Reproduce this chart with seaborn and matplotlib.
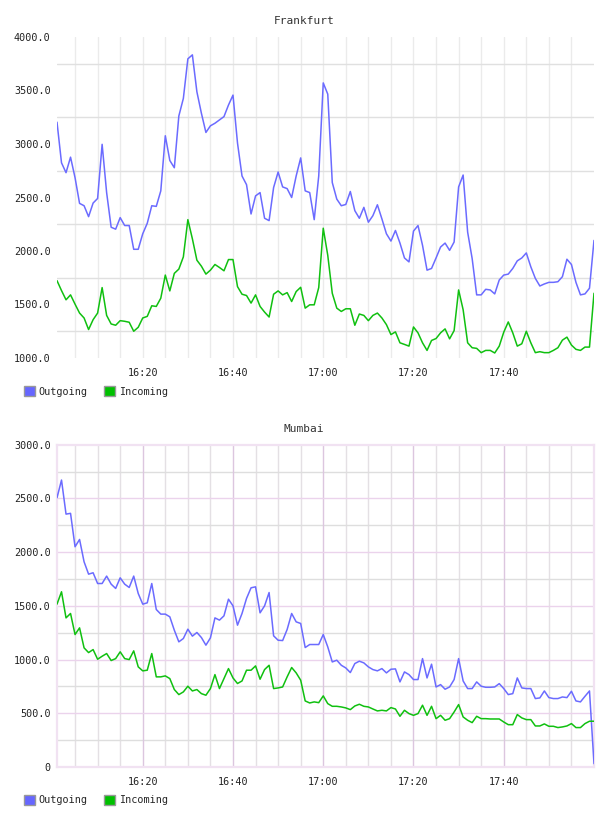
import pandas as pd
import matplotlib.pyplot as plt
import seaborn as sns
from matplotlib.patches import Patch

sns.set_style("white")
plt.rcParams['font.family'] = ['DejaVu Sans Mono', 'DejaVu Sans']

# minutes after 16:00, one sample per minute
minutes = list(range(1, 121))

fra_out = [3204, 2824, 2732, 2877, 2685, 2445, 2423, 2321, 2448, 2491,
           2997, 2545, 2222, 2204, 2312, 2238, 2238, 2016, 2016, 2161,
           2259, 2423, 2417, 2562, 3077, 2846, 2778, 3262, 3426, 3796,
           3833, 3488, 3287, 3108, 3170, 3194, 3225, 3256, 3364, 3457,
           3009, 2701, 2620, 2346, 2515, 2546, 2306, 2284, 2593, 2738,
           2599, 2583, 2500, 2701, 2870, 2562, 2546, 2293, 2701, 3571,
           3466, 2640, 2485, 2423, 2435, 2556, 2377, 2306, 2408, 2269,
           2330, 2432, 2300, 2161, 2093, 2192, 2074, 1935, 1898, 2186,
           2238, 2053, 1821, 1837, 1935, 2037, 2074, 2006, 2084, 2599,
           2710, 2176, 1929, 1590, 1590, 1642, 1636, 1599, 1729, 1775,
           1784, 1837, 1908, 1935, 1982, 1852, 1744, 1673, 1692, 1707,
           1707, 1713, 1760, 1923, 1874, 1707, 1590, 1599, 1652, 2099]
fra_in = [1723, 1630, 1544, 1590, 1503, 1420, 1374, 1266, 1358, 1420,
          1658, 1398, 1318, 1306, 1349, 1343, 1334, 1250, 1287, 1374,
          1389, 1488, 1482, 1559, 1775, 1627, 1791, 1831, 1945, 2293,
          2114, 1914, 1858, 1784, 1821, 1874, 1846, 1815, 1920, 1920,
          1667, 1596, 1584, 1513, 1590, 1482, 1429, 1383, 1596, 1627,
          1590, 1611, 1528, 1621, 1661, 1466, 1497, 1497, 1658, 2213,
          1960, 1605, 1466, 1435, 1460, 1460, 1306, 1411, 1398, 1349,
          1398, 1420, 1374, 1312, 1219, 1244, 1142, 1127, 1111, 1290,
          1235, 1142, 1071, 1164, 1182, 1235, 1272, 1179, 1256, 1636,
          1451, 1142, 1096, 1090, 1050, 1071, 1071, 1047, 1111, 1241,
          1337, 1235, 1111, 1133, 1250, 1142, 1050, 1059, 1050, 1050,
          1071, 1096, 1167, 1195, 1121, 1081, 1071, 1102, 1102, 1605]
mum_out = [2506, 2671, 2354, 2361, 2050, 2118, 1910, 1795, 1808, 1708,
           1708, 1777, 1702, 1662, 1761, 1702, 1671, 1777, 1615, 1516,
           1528, 1708, 1466, 1423, 1423, 1398, 1273, 1165, 1196, 1283,
           1218, 1252, 1205, 1134, 1202, 1388, 1367, 1407, 1562, 1500,
           1320, 1429, 1569, 1668, 1677, 1435, 1500, 1624, 1221, 1180,
           1177, 1280, 1429, 1351, 1336, 1112, 1140, 1140, 1140, 1233,
           1118, 978, 994, 947, 922, 879, 963, 985, 969, 932,
           907, 895, 916, 876, 910, 913, 792, 885, 860, 814,
           814, 1009, 829, 957, 745, 767, 724, 745, 814, 1009,
           801, 730, 730, 792, 752, 742, 742, 745, 776, 730,
           674, 683, 829, 736, 730, 730, 637, 643, 708, 646,
           637, 637, 652, 646, 705, 615, 606, 658, 708, 31]
mum_in = [1516, 1631, 1388, 1429, 1233, 1295, 1109, 1065, 1093, 1003,
          1031, 1056, 991, 1009, 1072, 1009, 1000, 1081, 932, 895,
          901, 1056, 839, 839, 848, 823, 721, 674, 699, 752,
          708, 721, 683, 668, 730, 860, 730, 823, 916, 829,
          777, 801, 901, 901, 941, 817, 907, 947, 730, 736,
          745, 839, 926, 876, 808, 615, 596, 606, 599, 662,
          590, 565, 565, 559, 550, 534, 568, 584, 565, 559,
          540, 522, 528, 522, 553, 540, 472, 528, 497, 481,
          497, 575, 481, 565, 450, 481, 435, 450, 512, 581,
          466, 435, 413, 472, 450, 450, 447, 447, 447, 419,
          394, 394, 488, 457, 441, 441, 382, 382, 401, 379,
          379, 367, 373, 382, 404, 367, 367, 404, 426, 426]

series_names = ["Outgoing", "Incoming"]
colors = {"Outgoing": "#6b6bff", "Incoming": "#10c010"}
legend_colors = {"Outgoing": "#6666ff", "Incoming": "#00c000"}

tick_minutes = [20, 40, 60, 80, 100]
tick_labels = ["16:20", "16:40", "17:00", "17:20", "17:40"]
grid_minutes = list(range(5, 120, 5))


def long_df(out_vals, in_vals):
    return pd.concat([
        pd.DataFrame({"minute": minutes, "value": out_vals, "series": "Outgoing"}),
        pd.DataFrame({"minute": minutes, "value": in_vals, "series": "Incoming"}),
    ])


fig = plt.figure(figsize=(6.08, 8.16), dpi=100)
fig.patch.set_facecolor("white")

W, H = 608, 816
ax1 = fig.add_axes([57 / W, 1 - 358 / H, 537 / W, 321 / H])
ax2 = fig.add_axes([57 / W, 1 - 767 / H, 537 / W, 322.3 / H])

# Frankfurt
for m in grid_minutes:
    ax1.axvline(m, color="#ebebeb", lw=1, zorder=0)
for v in [1250, 1750, 2250, 2750, 3250, 3750]:
    ax1.axhline(v, color="#e0e0e0", lw=1, zorder=0)
sns.lineplot(data=long_df(fra_out, fra_in), x="minute", y="value", hue="series",
             hue_order=series_names, palette=colors, linewidth=1.1,
             legend=False, ax=ax1, zorder=3)
ax1.set_ylim(1000, 4000)
ax1.set_yticks([1000, 1500, 2000, 2500, 3000, 3500, 4000])
ax1.set_yticklabels(["1000.0", "1500.0", "2000.0", "2500.0", "3000.0", "3500.0", "4000.0"])
for s in ax1.spines.values():
    s.set_visible(False)

# Mumbai
for m in grid_minutes:
    if m in tick_minutes:
        ax2.axvline(m, color="#dcc6df", lw=1, zorder=1)
    else:
        ax2.axvline(m, color="#e4e0e4", lw=1, zorder=0)
for v in range(250, 3000, 250):
    if v % 500 == 0:
        ax2.axhline(v, color="#ebd3ec", lw=1, zorder=1)
    else:
        ax2.axhline(v, color="#dedede", lw=1, zorder=0)
sns.lineplot(data=long_df(mum_out, mum_in), x="minute", y="value", hue="series",
             hue_order=series_names, palette=colors, linewidth=1.1,
             legend=False, ax=ax2, zorder=3)
ax2.set_ylim(0, 3000)
ax2.set_yticks([0, 500, 1000, 1500, 2000, 2500, 3000])
ax2.set_yticklabels(["0", "500.0", "1000.0", "1500.0", "2000.0", "2500.0", "3000.0"])
for s in ax2.spines.values():
    s.set_visible(True)
    s.set_color("#f1e2f2")
    s.set_linewidth(1.6)

for ax, title, ly in [(ax1, "Frankfurt", 386.5), (ax2, "Mumbai", 795)]:
    ax.set_xlim(1, 120)
    ax.set_xticks(tick_minutes)
    ax.set_xticklabels(tick_labels)
    ax.set_xlabel("")
    ax.set_ylabel("")
    ax.tick_params(length=0, labelsize=7.3, colors="#222222")
    ax.tick_params(axis="y", pad=4.5)
    ax.tick_params(axis="x", pad=7)
    handles = [Patch(facecolor=legend_colors[n], edgecolor="#999999", linewidth=1)
               for n in series_names]
    ax.legend(handles, series_names, loc="upper left",
              bbox_to_anchor=(23.5 / W, 1 - ly / H), bbox_transform=fig.transFigure,
              ncol=2, frameon=False, fontsize=7.3, handlelength=1.1, handleheight=1.1,
              handletextpad=0.4, columnspacing=1.6, borderpad=0, borderaxespad=0)

fig.text(0.5, 1 - 20.5 / H, "Frankfurt", ha="center", va="center", fontsize=8, color="#333333")
fig.text(0.5, 1 - 428.5 / H, "Mumbai", ha="center", va="center", fontsize=8, color="#333333")

plt.savefig("out.png", dpi=100)
